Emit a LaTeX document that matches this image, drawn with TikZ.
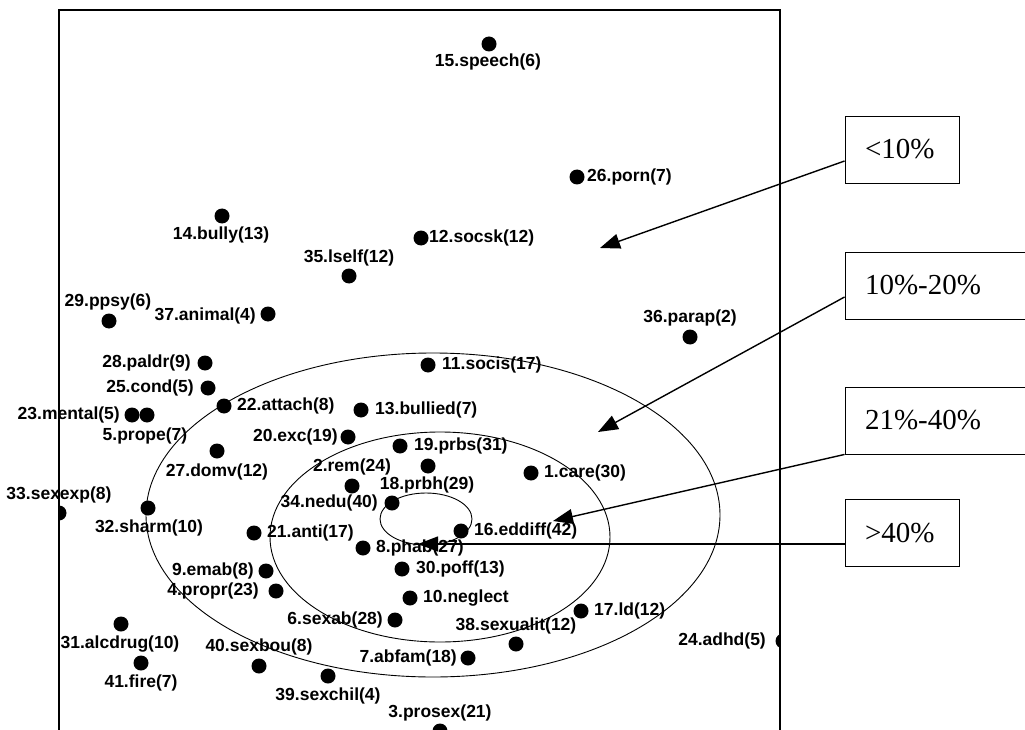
\documentclass[tikz,border=0pt]{standalone}
\usepackage{fontspec}
\setmainfont{Liberation Serif}
\newfontfamily\labfont{Liberation Sans}
\usetikzlibrary{arrows.meta}
\begin{document}
\begin{tikzpicture}[x=1pt,y=-1pt,
  dot/.style={circle, fill=black, inner sep=0pt, minimum size=15pt},
  lbl/.style={font=\labfont\bfseries\fontsize{17.5}{20}\selectfont, inner sep=0pt},
  ring/.style={line width=0.9pt},
  legbox/.style={draw, line width=0.9pt, minimum height=67pt, minimum width=#1, text width=#1-40pt, inner xsep=20pt, align=left, font=\fontsize{29}{33}\selectfont},
  arr/.style={-{Triangle[length=20pt,width=15pt]}, line width=1.4pt},
  frame/.style={line width=2.5pt}]
\useasboundingbox (0,0) rectangle (1025,730);

% rings
\draw[ring] (433,515) ellipse [x radius=287, y radius=162];
\draw[ring] (440,537) ellipse [x radius=170, y radius=105];
\draw[ring] (426,519) ellipse [x radius=46, y radius=26];

% dots (clipped to the frame)
\begin{scope}
\clip (59,10) rectangle (780,760);
\node[dot] (d1) at (531,473) {};
\node[dot] (d2) at (352,486) {};
\node[dot] (d3) at (440,731) {};
\node[dot] (d4) at (276,591) {};
\node[dot] (d5) at (147,415) {};
\node[dot] (d6) at (395,620) {};
\node[dot] (d7) at (468,658) {};
\node[dot] (d8) at (363,548) {};
\node[dot] (d9) at (266,571) {};
\node[dot] (d10) at (410,598) {};
\node[dot] (d11) at (428,365) {};
\node[dot] (d12) at (421,238) {};
\node[dot] (d13) at (361,410) {};
\node[dot] (d14) at (222,216) {};
\node[dot] (d15) at (489,44) {};
\node[dot] (d16) at (461,531) {};
\node[dot] (d17) at (581,611) {};
\node[dot] (d18) at (428,466) {};
\node[dot] (d19) at (400,446) {};
\node[dot] (d20) at (348,437) {};
\node[dot] (d21) at (254,533) {};
\node[dot] (d22) at (224,406) {};
\node[dot] (d23) at (132,415) {};
\node[dot] (d24) at (783,641) {};
\node[dot] (d25) at (208,388) {};
\node[dot] (d26) at (577,177) {};
\node[dot] (d27) at (217,451) {};
\node[dot] (d28) at (205,363) {};
\node[dot] (d29) at (109,321) {};
\node[dot] (d30) at (402,569) {};
\node[dot] (d31) at (121,624) {};
\node[dot] (d32) at (148,508) {};
\node[dot] (d33) at (59,513) {};
\node[dot] (d34) at (392,503) {};
\node[dot] (d35) at (349,276) {};
\node[dot] (d36) at (690,337) {};
\node[dot] (d37) at (268,314) {};
\node[dot] (d38) at (516,644) {};
\node[dot] (d39) at (328,676) {};
\node[dot] (d40) at (259,666) {};
\node[dot] (d41) at (141,663) {};
\end{scope}

% labels
\node[lbl, anchor=west] (l1) at (544,473) {1.care(30)};
\node[lbl] (l2) at (352,467) {2.rem(24)};
\node[lbl] (l3) at (440,713) {3.prosex(21)};
\node[lbl, anchor=east] (l4) at (259,591) {4.propr(23)};
\node[lbl] (l5) at (145,436) {5.prope(7)};
\node[lbl, anchor=east] (l6) at (383,620) {6.sexab(28)};
\node[lbl, anchor=east] (l7) at (457,658) {7.abfam(18)};
\node[lbl, anchor=west] (l8) at (376,548) {8.phab(27)};
\node[lbl, anchor=east] (l9) at (254,571) {9.emab(8)};
\node[lbl, anchor=west] (l10) at (423,598) {10.neglect};
\node[lbl, anchor=west] (l11) at (442,365) {11.socis(17)};
\node[lbl, anchor=west] (l12) at (429,238) {12.socsk(12)};
\node[lbl, anchor=west] (l13) at (375,410) {13.bullied(7)};
\node[lbl] (l14) at (221,235) {14.bully(13)};
\node[lbl] (l15) at (488,62) {15.speech(6)};
\node[lbl, anchor=west] (l16) at (474,531) {16.eddiff(42)};
\node[lbl, anchor=west] (l17) at (594,611) {17.ld(12)};
\node[lbl] (l18) at (427,485) {18.prbh(29)};
\node[lbl, anchor=west] (l19) at (414,446) {19.prbs(31)};
\node[lbl, anchor=east] (l20) at (338,437) {20.exc(19)};
\node[lbl, anchor=west] (l21) at (267,533) {21.anti(17)};
\node[lbl, anchor=west] (l22) at (237,406) {22.attach(8)};
\node[lbl, anchor=east] (l23) at (120,415) {23.mental(5)};
\node[lbl, anchor=east] (l24) at (766,641) {24.adhd(5)};
\node[lbl, anchor=east] (l25) at (194,388) {25.cond(5)};
\node[lbl, anchor=west] (l26) at (587,177) {26.porn(7)};
\node[lbl] (l27) at (217,472) {27.domv(12)};
\node[lbl, anchor=east] (l28) at (191,363) {28.paldr(9)};
\node[lbl] (l29) at (108,302) {29.ppsy(6)};
\node[lbl, anchor=west] (l30) at (416,569) {30.poff(13)};
\node[lbl] (l31) at (120,644) {31.alcdrug(10)};
\node[lbl] (l32) at (149,528) {32.sharm(10)};
\node[lbl] (l33) at (59,495) {33.sexexp(8)};
\node[lbl, anchor=east] (l34) at (378,503) {34.nedu(40)};
\node[lbl] (l35) at (349,258) {35.lself(12)};
\node[lbl] (l36) at (690,318) {36.parap(2)};
\node[lbl, anchor=east] (l37) at (256,316) {37.animal(4)};
\node[lbl] (l38) at (516,626) {38.sexualit(12)};
\node[lbl] (l39) at (328,696) {39.sexchil(4)};
\node[lbl] (l40) at (259,647) {40.sexbou(8)};
\node[lbl] (l41) at (141,683) {41.fire(7)};

% frame
\draw[frame] (59,740) -- (59,10) -- (780,10) -- (780,740);

% legend boxes
\node[legbox=114pt] (b1) at (902,149.5) {<10\%};
\node[legbox=200pt] (b2) at (945,285.5) {10\%-20\%};
\node[legbox=200pt] (b3) at (945,420.5) {21\%-40\%};
\node[legbox=114pt] (b4) at (902,533) {>40\%};

% arrow tips
\coordinate (t1) at (600,248);
\coordinate (t2) at (598,432);
\coordinate (t3) at (553,521);
\coordinate (t4) at (418,544);

\draw[arr] ([yshift=-11.5pt]b1.west) -- (t1);
\draw[arr] ([yshift=-11.5pt]b2.west) -- (t2);
\draw[arr] (b3.south west) -- (t3);
\draw[arr] ([yshift=-11pt]b4.west) -- (t4);
\end{tikzpicture}
\end{document}
